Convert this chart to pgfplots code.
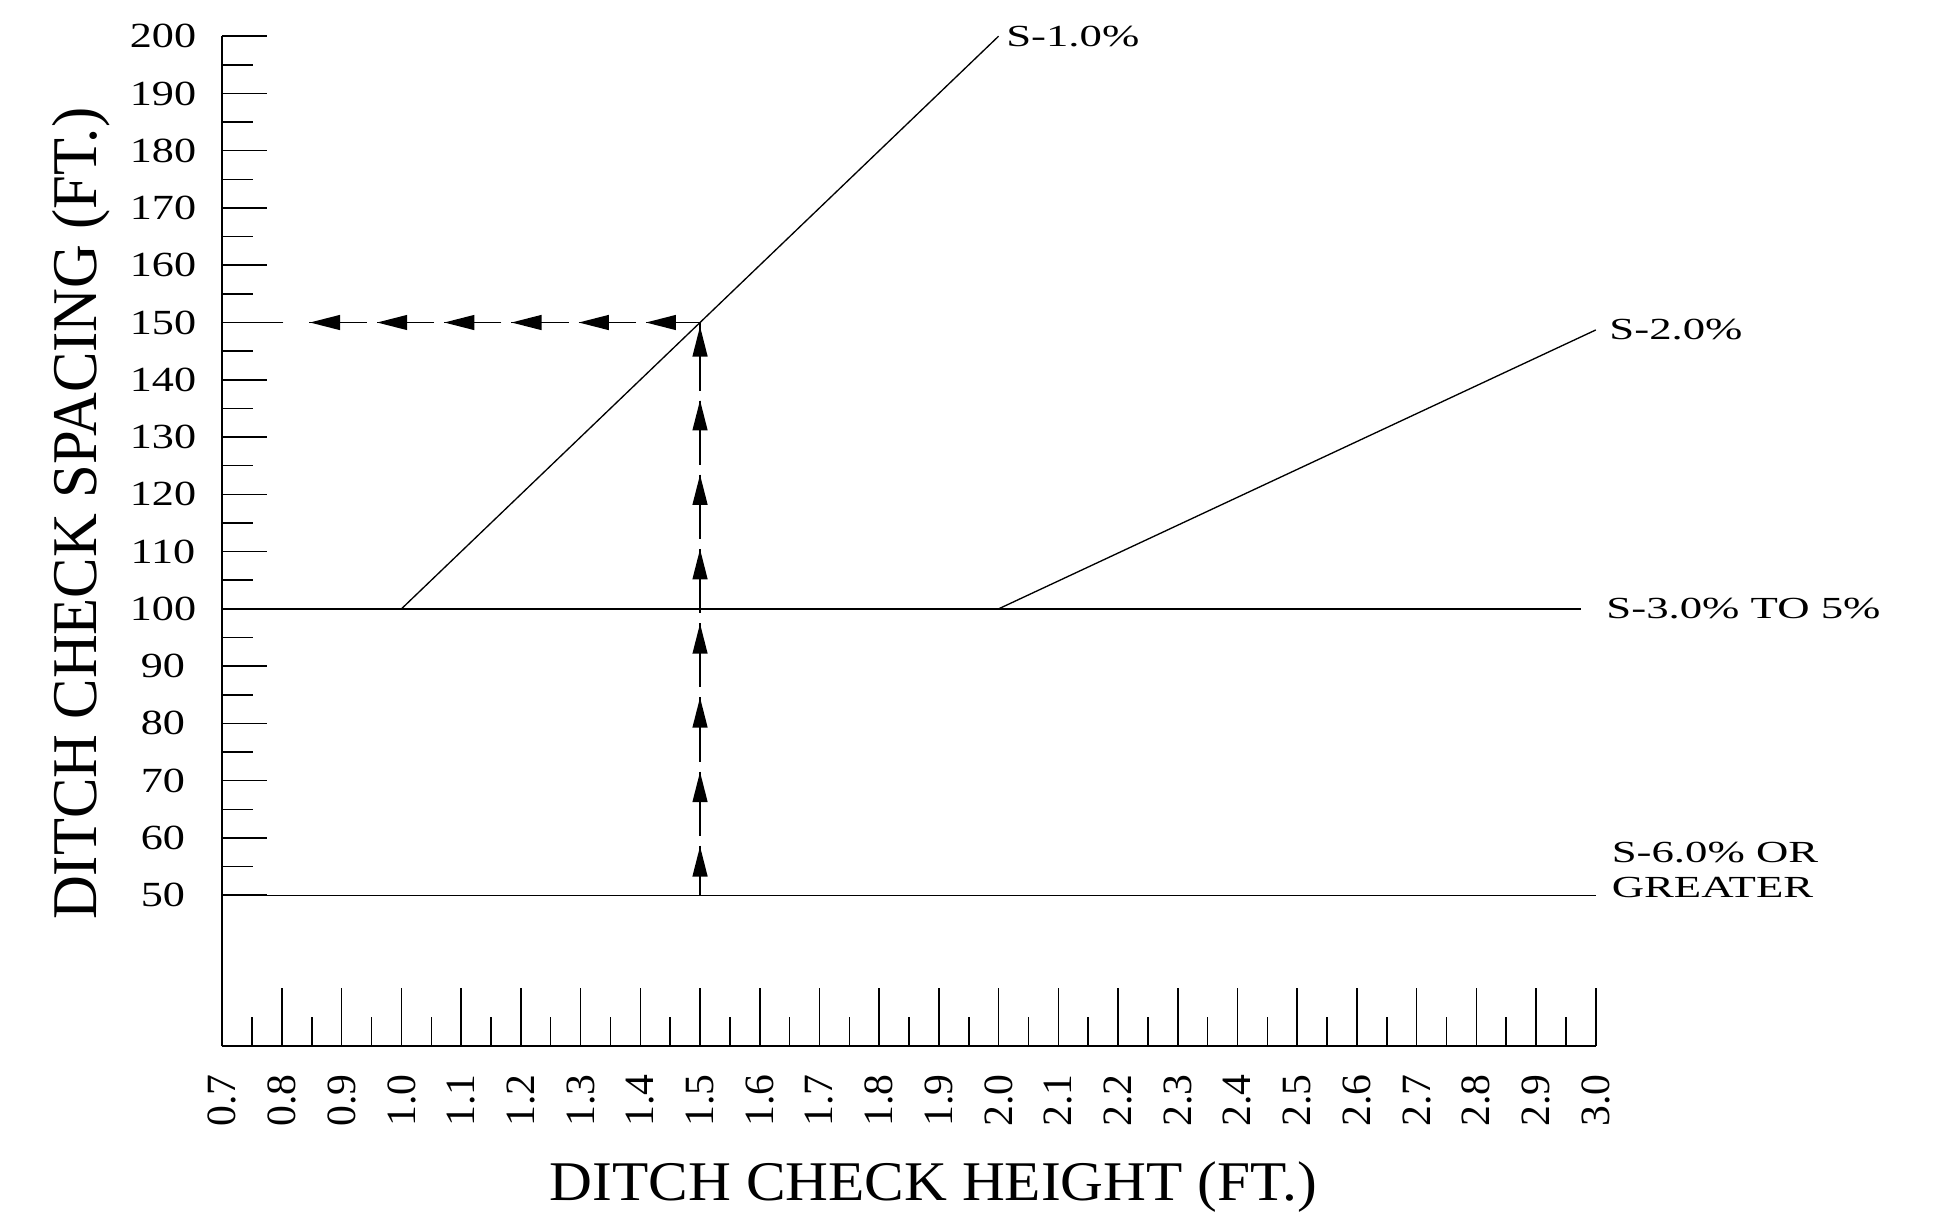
\documentclass[border=0pt]{standalone}
\usepackage{fontspec}
\setmainfont{Liberation Serif}
\newfontfamily\labfont{Liberation Serif}[FakeStretch=1.46]
\newfontfamily\ytfont{Liberation Serif}[FakeStretch=1.25]
\newfontfamily\xlabfont{Liberation Serif}[FakeStretch=1.06]
\usepackage{graphicx}
\usepackage{pgfplots}
\pgfplotsset{compat=1.18}

\pgfdeclareplotmark{tipup}{%
  \pgfpathmoveto{\pgfqpoint{0pt}{0pt}}%
  \pgfpathlineto{\pgfqpoint{-2.3pt}{-9pt}}%
  \pgfpathlineto{\pgfqpoint{2.3pt}{-9pt}}%
  \pgfpathclose\pgfusepathqfill}
\pgfdeclareplotmark{tipleft}{%
  \pgfpathmoveto{\pgfqpoint{0pt}{0pt}}%
  \pgfpathlineto{\pgfqpoint{9pt}{2.3pt}}%
  \pgfpathlineto{\pgfqpoint{9pt}{-2.3pt}}%
  \pgfpathclose\pgfusepathqfill}

\pgfplotsset{
  common/.style={
    scale only axis, width=412.05pt, height=303.06pt,
    xmin=0.7, xmax=3.0, ymin=23.6, ymax=200,
    clip=false,
    tick style={line width=0.45pt, black},
    /pgf/number format/assume math mode=true,
  },
  nolinearrows/.style={
    axis line style={-, line width=0.55pt, black},
    every outer x axis line/.append style={-},
    every outer y axis line/.append style={-},
    every inner x axis line/.append style={-},
    every inner y axis line/.append style={-},
    tick align=inside,
  }
}

\begin{document}
\begin{tikzpicture}
% x axis
\begin{axis}[common,
  axis x line=bottom, axis y line=none, nolinearrows,
  xtick={0.7,0.8,0.9,1.0,1.1,1.2,1.3,1.4,1.5,1.6,1.7,1.8,1.9,2.0,2.1,2.2,2.3,2.4,2.5,2.6,2.7,2.8,2.9,3.0},
  minor xtick={0.75,0.85,0.95,1.05,1.15,1.25,1.35,1.45,1.55,1.65,1.75,1.85,1.95,2.05,2.15,2.25,2.35,2.45,2.55,2.65,2.75,2.85,2.95},
  major tick length=17.4pt, minor tick length=8.9pt,
  xticklabel style={font=\fontsize{12.5}{12.5}\selectfont, rotate=90, anchor=east, inner sep=0pt,
    /pgf/number format/fixed, /pgf/number format/fixed zerofill, /pgf/number format/precision=1},
  xticklabel shift=8.2pt,
  xlabel={DITCH CHECK HEIGHT (FT.)},
  xlabel style={at={(axis description cs:0.5178,-0.1521)}, anchor=base, inner sep=0pt,
    font=\xlabfont\fontsize{16.8}{16.8}\selectfont},
]
\coordinate (O) at (rel axis cs:0,0);
\end{axis}
% y axis and data
\begin{axis}[common,
  axis x line=none, axis y line=left, nolinearrows,
  ytick={50,60,...,200}, minor ytick={55,65,...,195},
  major tick length=13.5pt, minor tick length=9.3pt,
  yticklabel style={font=\ytfont\fontsize{10.6}{10.6}\selectfont, anchor=center, inner sep=0pt, xshift=-17.8pt},
  ylabel={\scalebox{1}[1.05]{DITCH CHECK SPACING (FT.)}},
  ylabel style={at={(axis description cs:-0.0915,0.5272)}, anchor=base, inner sep=0pt,
    font=\fontsize{18.2}{18.2}\selectfont},
]
% design lines
\addplot[black, line width=0.4pt] coordinates {(1.0,100) (2.0,200)};
\addplot[black, line width=0.4pt] coordinates {(2.0,100) (3.0,148.7)};
\addplot[black, line width=0.4pt] coordinates {(0.7,100) (2.975,100)};
\addplot[black, line width=0.4pt] coordinates {(0.7,50) (3.0,50)};
% example: vertical dashed guide with arrows
\addplot[black, line width=0.35pt,
  dash pattern=on 20.4pt off 3pt on 19.26pt off 3pt on 19.26pt off 3pt on 19.26pt off 3pt on 19.26pt off 3pt on 19.26pt off 3pt on 19.26pt off 3pt on 40pt off 0pt]
  coordinates {(1.5,150) (1.5,50)};
\addplot[only marks, mark=tipup, mark options={fill=black, draw=none}]
  coordinates {(1.5,149.3) (1.5,136.4) (1.5,123.4) (1.5,110.4) (1.5,97.4) (1.5,84.5) (1.5,71.5) (1.5,58.5)};
% horizontal dashed guide with arrows
\addplot[black, line width=0.35pt,
  dash pattern=on 16.2pt off 3pt on 17.2pt off 3pt on 17.2pt off 3pt on 17.2pt off 3pt on 17.2pt off 3pt on 17.2pt off 7.8pt on 40pt off 0pt]
  coordinates {(1.5,150) (0.7,150)};
\addplot[only marks, mark=tipleft, mark options={fill=black, draw=none}]
  coordinates {(1.4095,150) (1.297,150) (1.1844,150) (1.0719,150) (0.9594,150) (0.8469,150)};
% curve labels
\node[anchor=west, inner sep=0pt, xshift=2.1pt, font=\labfont\fontsize{9.2}{9.2}\selectfont] at (axis cs:2.0,200) {S-1.0\%};
\node[anchor=west, inner sep=0pt, xshift=3.9pt, font=\labfont\fontsize{9.2}{9.2}\selectfont] at (axis cs:3.0,148.7) {S-2.0\%};
\node[anchor=west, inner sep=0pt, xshift=3pt, font=\labfont\fontsize{9.2}{9.2}\selectfont] at (axis cs:3.0,100) {S-3.0\% TO 5\%};
\node[anchor=south west, inner sep=0pt, xshift=4.6pt, yshift=-1pt, align=left, font=\labfont\fontsize{9.2}{10.4}\selectfont] at (axis cs:3.0,50) {S-6.0\% OR\\GREATER};
\end{axis}
\pgfresetboundingbox
\path ([shift={(-66.69pt,-54.18pt)}]O) rectangle ([shift={(520.71pt,313.92pt)}]O);
\end{tikzpicture}
\end{document}
